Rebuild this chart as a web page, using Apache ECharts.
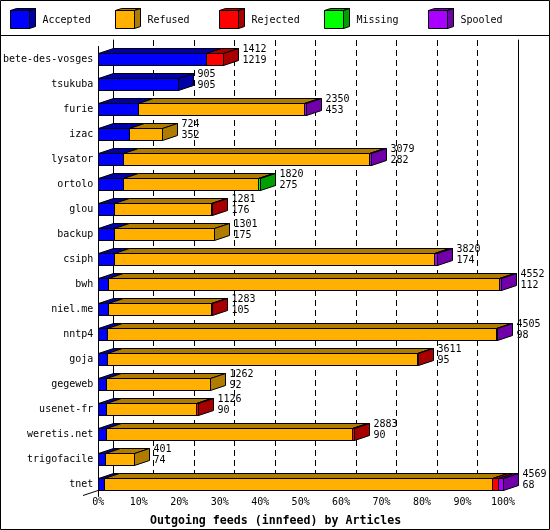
<!DOCTYPE html>
<html>
<head>
<meta charset="utf-8">
<script src="https://cdn.jsdelivr.net/npm/echarts@6/dist/echarts.min.js"></script>
<style>
html,body{margin:0;padding:0;background:#fff;}
#c{width:550px;height:530px;}
</style>
</head>
<body>
<div id="c"></div>
<script>
// ---- data ----
const categories = ['bete-des-vosges','tsukuba','furie','izac','lysator','ortolo','glou','backup','csiph','bwh','niel.me','nntp4','goja','gegeweb','usenet-fr','weretis.net','trigofacile','tnet'];
const totals   = [1412, 905, 2350, 724, 3079, 1820, 1281, 1301, 3820, 4552, 1283, 4505, 3611, 1262, 1126, 2883, 401, 4569];
const accepted = [1219, 905,  453, 352,  282,  275,  176,  175,  174,  112,  105,   98,   95,   92,   90,   90,  74,   68];
const refused  = [   0,   0, 1872, 372, 2777, 1530, 1095, 1126, 3611, 4410, 1168, 4395, 3504, 1170, 1016, 2778, 327, 4377];
const rejected = [ 193,   0,    0,   0,    0,    0,   10,    0,    0,    0,   10,    0,   12,    0,   20,   15,   0,   68];
const missing  = [   0,   0,    0,   0,    0,   15,    0,    0,    0,    0,    0,    0,    0,    0,    0,    0,   0,    0];
const spooled  = [   0,   0,   25,   0,   20,    0,    0,    0,   35,   30,    0,   12,    0,    0,    0,    0,   0,   56];
const seriesNames = ['Accepted','Refused','Rejected','Missing','Spooled'];
const xTicks = [0,10,20,30,40,50,60,70,80,90,100];
const axisTitle = 'Outgoing feeds (innfeed) by Articles';

// ---- style ----
const front = ['#0000ff','#ffb000','#ff0000','#00ff00','#aa00ff'];
const dark  = ['#0000a8','#b07c00','#a80000','#00a000','#7000a8'];
const FONT = '"DejaVu Sans Mono", monospace';
const D = 15, E = 5, H = 12;

const maxTotal = Math.max.apply(null, totals);
const segs = [accepted, refused, rejected, missing, spooled];

const chart = echarts.init(document.getElementById('c'), null, {renderer:'canvas'});

function px(v){ return Math.round(v) + 0.5; }

function renderItem(params, api) {
  const i = params.dataIndex;
  const yC = Math.round(api.coord([0, i])[1]);
  const yt = yC - H/2 + 0.5, yb = yC + H/2 + 0.5;
  const children = [];
  let cum = 0, lastK = -1, xEnd = px(api.coord([0, i])[0]);
  for (let k = 0; k < segs.length; k++) {
    const v = segs[k][i];
    if (v <= 0) continue;
    const x0 = px(api.coord([cum / maxTotal * 100, i])[0]);
    cum += v;
    const x1 = px(api.coord([cum / maxTotal * 100, i])[0]);
    children.push({type:'polygon', shape:{points:[[x0,yt],[x0+D,yt-E],[x1+D,yt-E],[x1,yt]]},
      style:{fill:dark[k], stroke:'#000', lineWidth:1}});
    children.push({type:'rect', shape:{x:x0, y:yt, width:x1-x0, height:H},
      style:{fill:front[k], stroke:'#000', lineWidth:1}});
    lastK = k; xEnd = x1;
  }
  if (lastK >= 0) {
    children.push({type:'polygon', shape:{points:[[xEnd,yt],[xEnd+D,yt-E],[xEnd+D,yb-E],[xEnd,yb]]},
      style:{fill:dark[lastK], stroke:'#000', lineWidth:1}});
  }
  children.push({type:'text', x: xEnd + D + 4, y: yC - 4,
    style:{text: totals[i] + '\n' + accepted[i], fill:'#000', font:'10px ' + FONT,
      verticalAlign:'middle', align:'left', lineHeight:11}});
  return {type:'group', children: children};
}

// legend graphics
const legendGraphics = [];
seriesNames.forEach(function(name, k){
  const x = Math.round(10 + 104.5 * k) + 0.5;
  legendGraphics.push({type:'polygon', shape:{points:[[x,10.5],[x+6,8.5],[x+25,8.5],[x+19,10.5]]}, style:{fill:dark[k], stroke:'#000', lineWidth:1}});
  legendGraphics.push({type:'polygon', shape:{points:[[x+19,10.5],[x+25,8.5],[x+25,26.5],[x+19,28.5]]}, style:{fill:dark[k], stroke:'#000', lineWidth:1}});
  legendGraphics.push({type:'rect', shape:{x:x, y:10.5, width:19, height:18}, style:{fill:front[k], stroke:'#000', lineWidth:1}});
  legendGraphics.push({type:'text', x: x + 32, y: 20, style:{text:name, fill:'#000', font:'10px ' + FONT, verticalAlign:'middle'}});
});

const option = {
  backgroundColor:'#fff',
  animation:false,
  title:{text:axisTitle, left:145, top:510,
    textStyle:{fontFamily:FONT, fontWeight:'bold', fontSize:11.6, color:'#000'}},
  grid:[
    {left:98, width:405, top:46.5, height:450},
    {left:113, width:405, top:40, height:445}
  ],
  xAxis:[
    {gridIndex:0, type:'value', min:0, max:100, interval:10,
      axisLine:{show:false}, axisTick:{show:false}, splitLine:{show:false},
      axisLabel:{formatter:function(v){return xTicks.indexOf(v) >= 0 ? v + '%' : '';}, margin:1, color:'#000', fontFamily:FONT, fontSize:10}},
    {gridIndex:1, type:'value', min:0, max:100, interval:10,
      axisLine:{show:false}, axisTick:{show:false}, axisLabel:{show:false},
      splitLine:{show:true, lineStyle:{color:'#000', type:[6,4], width:1}}}
  ],
  yAxis:[
    {gridIndex:0, type:'category', data:categories, inverse:true,
      axisLine:{show:true, lineStyle:{color:'#000', width:1}}, axisTick:{show:false},
      axisLabel:{color:'#000', fontFamily:FONT, fontSize:10, margin:5}, splitLine:{show:false}},
    {gridIndex:1, type:'value', min:0, max:1, position:'left',
      axisLine:{show:true, lineStyle:{color:'#000', width:1}}, axisTick:{show:false}, axisLabel:{show:false}, splitLine:{show:false}},
    {gridIndex:1, type:'value', min:0, max:1, position:'right',
      axisLine:{show:true, lineStyle:{color:'#000', width:1}}, axisTick:{show:false}, axisLabel:{show:false}, splitLine:{show:false}}
  ],
  series:[{
    type:'custom', xAxisIndex:0, yAxisIndex:0, z:10,
    renderItem: renderItem,
    encode:{x:0, y:1},
    data: categories.map(function(c, i){ return [totals[i] / maxTotal * 100, i]; })
  }],
  graphic:[
    {type:'rect', shape:{x:0.5, y:0.5, width:549, height:529}, style:{fill:'none', stroke:'#000', lineWidth:1}, z:100},
    {type:'line', shape:{x1:0, y1:35.5, x2:550, y2:35.5}, style:{stroke:'#000', lineWidth:1}, z:100},
    {type:'line', shape:{x1:83, y1:495.5, x2:98, y2:490.5}, style:{stroke:'#000', lineWidth:1}, z:100}
  ].concat(legendGraphics.map(function(g){ g.z = 100; return g; }))
};
chart.setOption(option);
</script>
</body>
</html>
